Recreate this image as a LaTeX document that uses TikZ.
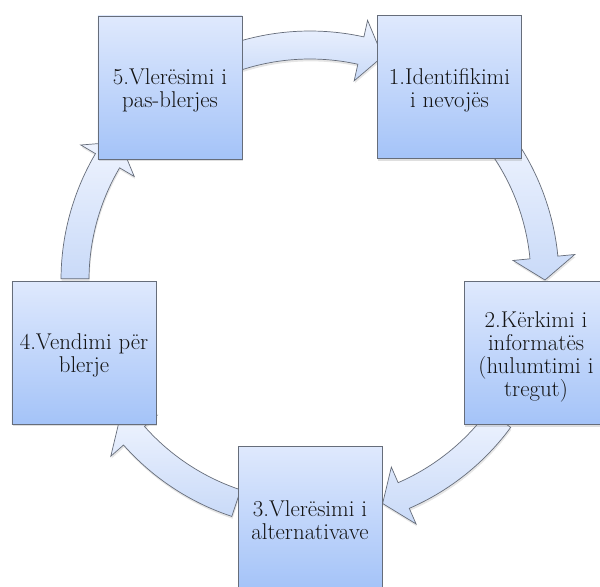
\documentclass[tikz,border=0pt]{standalone}
\usepackage{fontspec}
\usetikzlibrary{shadows}
\definecolor{boxtop}{HTML}{DFE9FD}
\definecolor{boxbot}{HTML}{A4C3F8}
\definecolor{arrtop}{HTML}{EEF3FE}
\definecolor{arrbot}{HTML}{C9DAF8}
\definecolor{edgegray}{HTML}{666D7A}
\definecolor{txt}{HTML}{141414}
\tikzset{
  stepbox/.style={rectangle, draw=edgegray, line width=0.6pt,
    top color=boxtop, bottom color=boxbot,
    minimum width=4.32cm, minimum height=4.29cm, inner sep=0pt,
    drop shadow={shadow xshift=0.6pt, shadow yshift=-2pt, opacity=0.25}},
  steptext/.style={inner sep=0pt, align=center, text=txt,
    font=\rmfamily\fontsize{19.5}{19.5}\selectfont\addfontfeature{FakeBold=0.4}},
  cyclearrow/.style={draw=edgegray, line width=0.6pt,
    top color=arrtop, bottom color=arrbot,
    drop shadow={shadow xshift=0.6pt, shadow yshift=-2pt, opacity=0.2}}
}
\begin{document}
\begin{tikzpicture}[x=0.03cm,y=0.03cm]
\clip (0,0) rectangle (600,-586);
\fill[white] (0,0) rectangle (600,-586);
% curved cycle arrows
\foreach \a in {90,18,-54,-126,162}{
  \draw[cyclearrow, shift={(310,-280)}]
    (\a+17.7:249) arc[start angle=\a+17.7, end angle=\a-12.5, radius=249]
    -- (\a-12.5:266) -- (\a-18:235) -- (\a-12.5:204) -- (\a-12.5:221)
    arc[start angle=\a-12.5, end angle=\a+17.7, radius=221] -- cycle;
}
% boxes
\node[stepbox] (b1) at (449.5,-87) {};
\node[stepbox] (b2) at (536,-353) {};
\node[stepbox] (b3) at (310,-517.5) {};
\node[stepbox] (b4) at (84,-352.5) {};
\node[stepbox] (b5) at (170,-87.5) {};
% texts
\node[steptext] (t1) at ([yshift=-0.09cm]b1.center) {1.Identifikimi\\i nevojës};
\node[steptext] (t2) at ([yshift=-0.12cm]b2.center) {2.Kërkimi i\\informatës\\(hulumtimi i\\tregut)};
\node[steptext] (t3) at ([yshift=-0.09cm]b3.center) {3.Vlerësimi i\\alternativave};
\node[steptext] (t4) at ([yshift=-0.09cm]b4.center) {4.Vendimi për\\blerje};
\node[steptext] (t5) at ([yshift=-0.09cm]b5.center) {5.Vlerësimi i\\pas-blerjes};
\end{tikzpicture}
\end{document}
